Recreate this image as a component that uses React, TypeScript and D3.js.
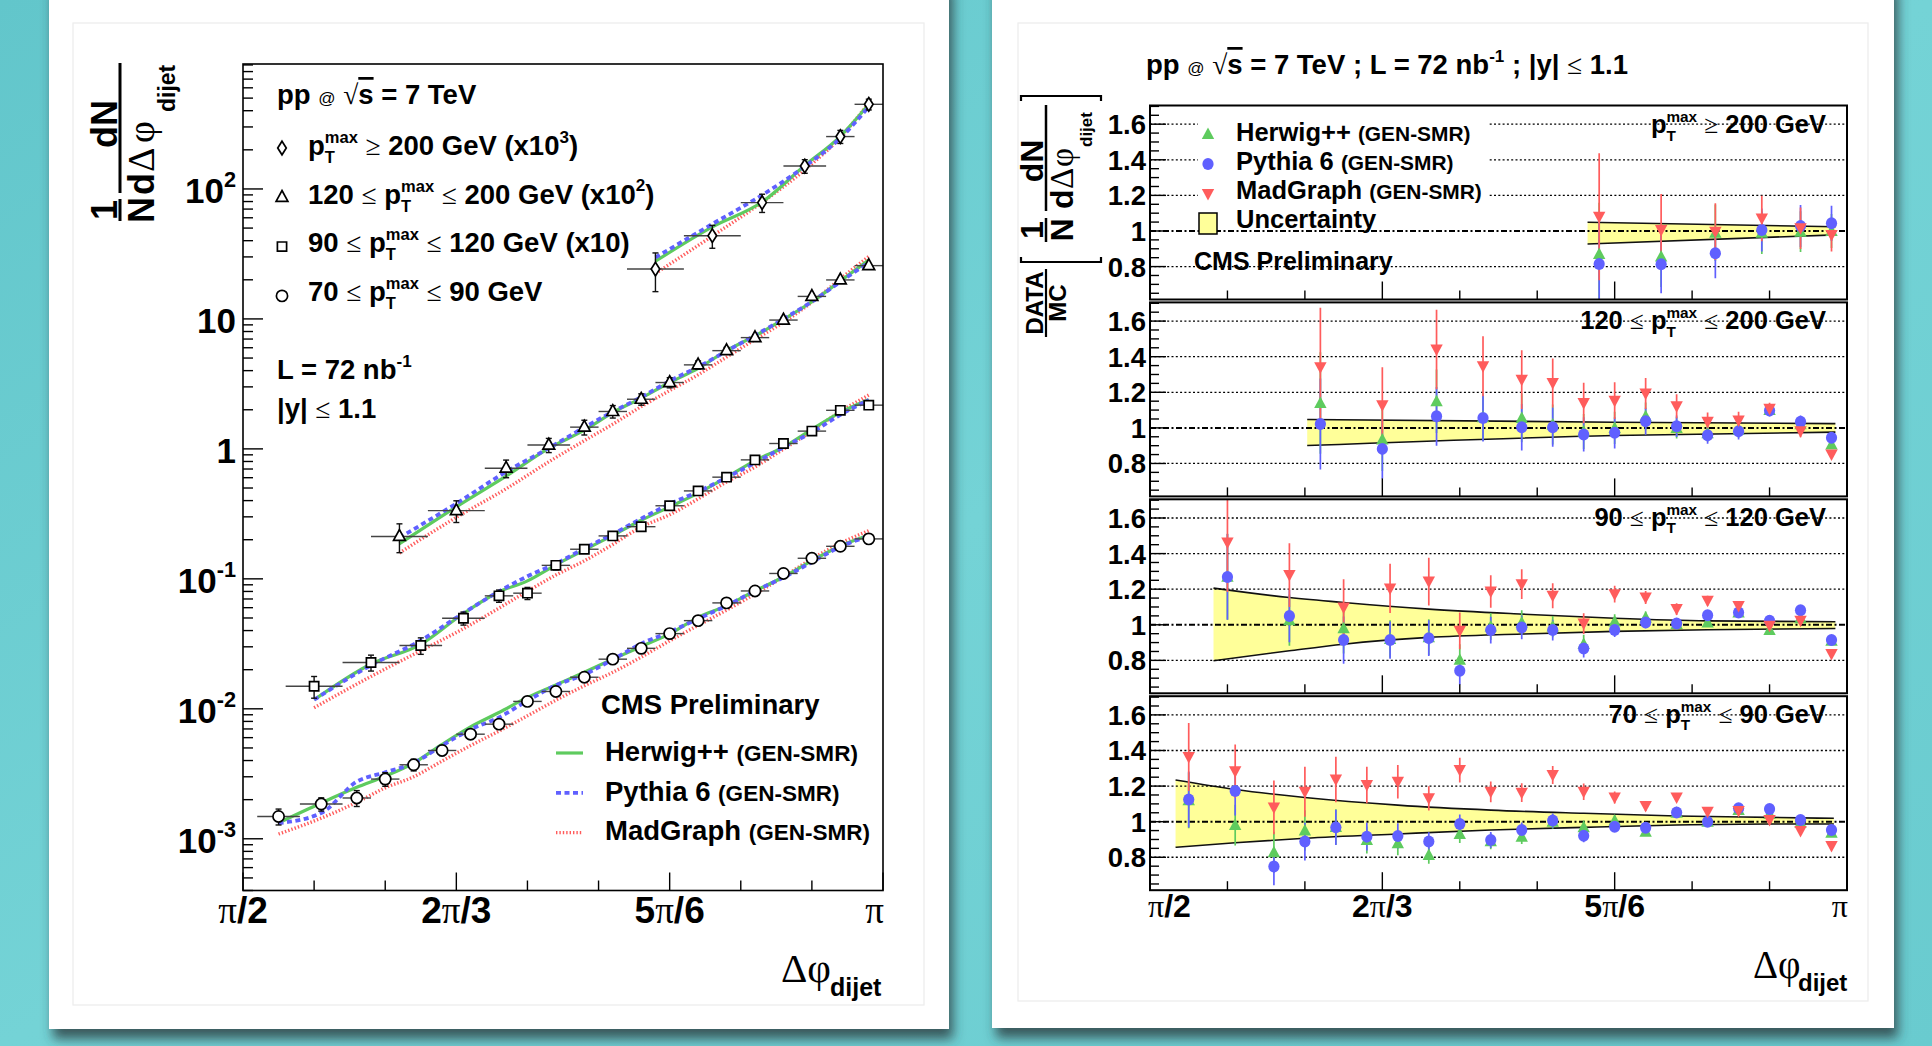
import React from 'react';
import * as d3 from 'd3';

// Δφ_dijet bin edges, in degrees (90 = π/2, 180 = π)
const edgesPt200 = [144, 152, 160, 166, 172, 176, 180];
const edgesPt120 = [108, 116, 124, 130, 136, 140, 144, 148, 152, 156, 160, 164, 168, 172, 176, 180];
const edgesPt90 = [96, 104, 112, 118, 124, 128, 132, 136, 140, 144, 148, 152, 156, 160, 164, 168, 172, 176, 180];
const edgesPt70 = [92, 98, 104, 108, 112, 116, 120, 124, 128, 132, 136, 140, 144, 148, 152, 156, 160, 164, 168, 172, 176, 180];

// measured 1/N dN/dΔφ (already multiplied by x10^3, x10^2, x10, x1)
const dataPt200 = [24.2, 43.7, 78.5, 150, 253, 448];
const dataPt120 = [0.212, 0.335, 0.71, 1.07, 1.47, 1.94, 2.41, 3.24, 4.43, 5.7, 7.18, 9.8, 14.9, 19.95, 25.7];
const dataPt90 = [0.0149, 0.0227, 0.0307, 0.0498, 0.074, 0.0776, 0.127, 0.169, 0.214, 0.252, 0.365, 0.475, 0.606, 0.823, 1.1, 1.37, 1.98, 2.17];
const dataPt70 = [0.001485, 0.00185, 0.00206, 0.00288, 0.00371, 0.00478, 0.00638, 0.00762, 0.0114, 0.0136, 0.0175, 0.0241, 0.0292, 0.0379, 0.0477, 0.0653, 0.0807, 0.11, 0.144, 0.178, 0.203];

// relative stat. uncertainty of the data
const relErr200 = [0.33, 0.2, 0.16, 0.12, 0.115, 0.095];
const relErr120 = [0.25, 0.19, 0.155, 0.125, 0.13, 0.11, 0.1, 0.09, 0.073, 0.06, 0.05, 0.047, 0.03, 0.035, 0.025];
const relErr90 = [0.19, 0.14, 0.145, 0.115, 0.108, 0.107, 0.077, 0.068, 0.06, 0.058, 0.04, 0.032, 0.03, 0.025, 0.02, 0.02, 0.02, 0.02];
const relErr70 = [0.14, 0.117, 0.14, 0.12, 0.103, 0.085, 0.077, 0.06, 0.054, 0.05, 0.045, 0.04, 0.04, 0.03, 0.025, 0.02, 0.02, 0.02, 0.02, 0.02, 0.02];

// DATA / MC ratios
const herwig200 = [0.871, 0.856, 0.99, 0.99, 0.996, 1.0];
const pythia200 = [0.815, 0.813, 0.875, 1.006, 1.028, 1.043];
const madgraph200 = [1.08, 1.006, 0.996, 1.07, 1.015, 0.978];

const herwig120 = [1.14, 0.935, 1.15, 1.06, 1.056, 1.019, 0.98, 1.0, 1.065, 1.0, 0.97, 0.99, 1.1, 1.02, 0.907];
const pythia120 = [1.022, 0.882, 1.065, 1.056, 1.004, 1.004, 0.963, 0.972, 1.037, 1.009, 0.959, 0.981, 1.097, 1.034, 0.944];
const madgraph120 = [1.34, 1.127, 1.44, 1.346, 1.271, 1.252, 1.14, 1.153, 1.193, 1.121, 1.034, 1.041, 1.108, 0.981, 0.85];

const herwig90 = [1.27, 1.026, 0.981, 0.92, 0.93, 0.804, 0.99, 1.013, 0.99, 0.892, 1.019, 1.041, 1.004, 1.013, 1.069, 0.97, 1.037, 0.91];
const pythia90 = [1.269, 1.049, 0.914, 0.914, 0.925, 0.742, 0.97, 0.985, 0.97, 0.867, 0.97, 1.013, 1.007, 1.054, 1.069, 1.022, 1.082, 0.914];
const madgraph90 = [1.462, 1.279, 1.097, 1.204, 1.243, 0.966, 1.187, 1.228, 1.163, 1.007, 1.172, 1.153, 1.088, 1.135, 1.105, 0.994, 1.022, 0.836];

const herwig70 = [1.12, 0.981, 0.828, 0.95, 0.97, 0.897, 0.879, 0.813, 0.931, 0.89, 0.916, 1.0, 0.968, 1.006, 0.944, 1.05, 1.0, 1.065, 1.043, 0.994, 0.938];
const pythia70 = [1.125, 1.172, 0.748, 0.888, 0.968, 0.916, 0.92, 0.888, 0.987, 0.897, 0.953, 1.006, 0.921, 0.972, 0.966, 1.052, 1.0, 1.075, 1.071, 1.009, 0.953];
const madgraph70 = [1.364, 1.284, 1.08, 1.168, 1.237, 1.206, 1.224, 1.131, 1.29, 1.168, 1.163, 1.262, 1.168, 1.136, 1.088, 1.136, 1.056, 1.06, 1.009, 0.948, 0.864];

// systematic uncertainty band (degrees, upper, lower)
const bandX200 = [146.5, 178.5];
const bandHi200 = [1.049, 1.024];
const bandLo200 = [0.927, 0.978];
const bandX120 = [110.3, 150, 178.5];
const bandHi120 = [1.047, 1.032, 1.024];
const bandLo120 = [0.901, 0.957, 0.976];
const bandX90 = [98.2, 108, 115, 126, 138, 150, 162, 178.5];
const bandHi90 = [1.206, 1.153, 1.125, 1.088, 1.06, 1.037, 1.022, 1.017];
const bandLo90 = [0.798, 0.854, 0.891, 0.929, 0.948, 0.963, 0.972, 0.979];
const bandX70 = [93.3, 101, 110, 122, 134, 146, 158, 170, 178.3];
const bandHi70 = [1.234, 1.181, 1.136, 1.093, 1.065, 1.047, 1.032, 1.024, 1.019];
const bandLo70 = [0.856, 0.882, 0.907, 0.931, 0.953, 0.968, 0.981, 0.987, 0.987];

// axis ticks and labels
const xMajorDeg = [90, 120, 150, 180];
const xMinorDeg = [100, 110, 130, 140, 160, 170];
const logLabelValues = [1e-3, 1e-2, 1e-1, 1, 10, 100];
const logLabelText = [['10', '-3'], ['10', '-2'], ['10', '-1'], ['1', ''], ['10', ''], ['10', '2']];
const ratioLabelValues = [0.8, 1, 1.2, 1.4, 1.6];
const ratioLabelText = ['0.8', '1', '1.2', '1.4', '1.6'];

const FONT = "'Liberation Sans', Arial, Helvetica, sans-serif";
const SERIF = "'Liberation Serif', 'DejaVu Serif', serif";
const W = 1932, H = 1046;

const MC = ['herwig', 'pythia', 'madgraph'];
const mcColor = { herwig: '#5ecb5e', pythia: '#6060ff', madgraph: '#ff5c5c' };

const ranges = [
  { edges: edgesPt200, data: dataPt200, err: relErr200, herwig: herwig200, pythia: pythia200, madgraph: madgraph200,
    bandX: bandX200, bandHi: bandHi200, bandLo: bandLo200, marker: 'diamond' },
  { edges: edgesPt120, data: dataPt120, err: relErr120, herwig: herwig120, pythia: pythia120, madgraph: madgraph120,
    bandX: bandX120, bandHi: bandHi120, bandLo: bandLo120, marker: 'up' },
  { edges: edgesPt90, data: dataPt90, err: relErr90, herwig: herwig90, pythia: pythia90, madgraph: madgraph90,
    bandX: bandX90, bandHi: bandHi90, bandLo: bandLo90, marker: 'square' },
  { edges: edgesPt70, data: dataPt70, err: relErr70, herwig: herwig70, pythia: pythia70, madgraph: madgraph70,
    bandX: bandX70, bandHi: bandHi70, bandLo: bandLo70, marker: 'circle' },
];

const centers = (e: number[]) => e.slice(0, -1).map((lo, i) => (lo + e[i + 1]) / 2);

// left plot geometry
const L = { left: 243, right: 883, top: 64, bottom: 890.5 };
const xL = d3.scaleLinear().domain([90, 180]).range([L.left, L.right]);
const yL = d3.scaleLog().domain([4e-4, 915]).range([L.bottom, L.top]);

// ratio panels geometry
const R = { left: 1150, right: 1847, top0: 105.5, step: 196.9, h: 194 };
const xR = d3.scaleLinear().domain([90, 180]).range([R.left, R.right]);
const yR = (i: number) => d3.scaleLinear().domain([0.615, 1.705]).range([R.top0 + i * R.step + R.h, R.top0 + i * R.step]);

// rich text: [text, kind]
function Rich({ x, y, fs, parts, anchor = 'start', small = 0.8 }: any) {
  const out: any[] = [];
  let pdx = 0, pdy = 0;
  const push = (t: string, props: any, key: string) => {
    out.push(<tspan key={key} dx={pdx || undefined} dy={pdy || undefined} {...props}>{t}</tspan>);
    pdx = 0; pdy = 0;
  };
  parts.forEach(([t, k]: any, i: number) => {
    if (k === 'sup') {
      pdy -= 0.45 * fs; push(t, { fontSize: 0.62 * fs }, i + 's'); pdy += 0.45 * fs;
    } else if (k === 'sym') {
      push(t, { fontFamily: SERIF, fontWeight: 400 }, i + 'y');
    } else if (k === 'small') {
      push(t, { fontSize: small * fs }, i + 'm');
    } else if (k === 'at') {
      push(t, { fontSize: 0.62 * fs, fontWeight: 400 }, i + 'a');
    } else if (k === 'over') {
      push(t, { style: { textDecoration: 'overline' } }, i + 'o');
    } else if (k === 'ptmax') {
      const s = 0.6 * fs;
      push('p', {}, i + 'p');
      pdy -= 0.42 * fs; push('max', { fontSize: s }, i + 'x');
      pdx -= 2.001 * s; pdy += 0.72 * fs; push('T', { fontSize: s }, i + 't');
      pdx += (2.001 - 0.611) * s; pdy -= 0.3 * fs;
    } else {
      push(t, {}, i + 'n');
    }
  });
  return <text x={x} y={y} fontSize={fs} textAnchor={anchor} style={{ whiteSpace: 'pre' }}>{out}</text>;
}

const markerPath: any = {
  square: 'M-4.6,-4.6H4.6V4.6H-4.6Z',
  up: 'M0,-6.8L5.9,4L-5.9,4Z',
  diamond: 'M0,-6.8L4.3,0L0,6.8L-4.3,0Z',
  rup: 'M0,-6.5L6.2,5L-6.2,5Z',
  rdown: 'M0,6.5L6.2,-5L-6.2,-5Z',
};

function OpenMarker({ type, x, y }: any) {
  if (type === 'circle') return <circle cx={x} cy={y} r={5.6} fill="#fff" stroke="#000" strokeWidth={1.7} />;
  return <path d={markerPath[type]} transform={`translate(${x},${y})`} fill="#fff" stroke="#000" strokeWidth={1.7} />;
}

function McMarker({ mc, x, y }: any) {
  if (mc === 'pythia') return <ellipse cx={x} cy={y} rx={5.6} ry={6} fill={mcColor.pythia} />;
  return <path d={markerPath[mc === 'herwig' ? 'rup' : 'rdown']} transform={`translate(${x},${y})`} fill={(mcColor as any)[mc]} />;
}

const mcLineStyle: any = {
  herwig: { stroke: mcColor.herwig, strokeWidth: 3.2 },
  pythia: { stroke: mcColor.pythia, strokeWidth: 3.8, strokeDasharray: '5 3.5' },
  madgraph: { stroke: mcColor.madgraph, strokeWidth: 3.4, strokeDasharray: '1.4 2' },
};

const mcNames: any = { herwig: 'Herwig++ ', pythia: 'Pythia 6 ', madgraph: 'MadGraph ' };

const ptLabel = [
  [['', 'ptmax'], [' '], ['≥', 'sym'], [' 200 GeV']],
  [['120 '], ['≤', 'sym'], [' '], ['', 'ptmax'], [' '], ['≤', 'sym'], [' 200 GeV']],
  [['90 '], ['≤', 'sym'], [' '], ['', 'ptmax'], [' '], ['≤', 'sym'], [' 120 GeV']],
  [['70 '], ['≤', 'sym'], [' '], ['', 'ptmax'], [' '], ['≤', 'sym'], [' 90 GeV']],
];
const ptScale = [[[' (x10'], ['3', 'sup'], [')']], [[' (x10'], ['2', 'sup'], [')']], [[' (x10)']], []];

const xTickLabels = [
  [['π', 'sym'], ['/2']],
  [['2'], ['π', 'sym'], ['/3']],
  [['5'], ['π', 'sym'], ['/6']],
  [['π', 'sym']],
];

function LeftPanel() {
  const line = d3.line().curve(d3.curveMonotoneX);
  const logTicks: { v: number; major: boolean }[] = [];
  for (let k = -4; k <= 2; k++) for (let m = 1; m <= 9; m++) {
    const v = m * Math.pow(10, k);
    if (v >= 4e-4 && v <= 915) logTicks.push({ v, major: m === 1 });
  }
  return (
    <g>
      {/* MC curves */}
      {ranges.map((r, ri) => {
        const cs = centers(r.edges);
        return ['madgraph', 'herwig', 'pythia'].map(mc => (
          <path key={ri + mc} fill="none" {...mcLineStyle[mc]}
            d={line(cs.map((c, i) => [xL(c), yL(r.data[i] / (r as any)[mc][i])]) as any) as string} />
        ));
      })}
      {/* data */}
      {ranges.map((r, ri) => {
        const cs = centers(r.edges);
        return cs.map((c, i) => {
          const v = r.data[i], e = r.err[i];
          const px = xL(c), py = yL(v), y1 = yL(v * (1 + e)), y2 = yL(v * (1 - e));
          return (
            <g key={ri + '-' + i}>
              <line x1={xL(r.edges[i])} x2={xL(r.edges[i + 1])} y1={py} y2={py} stroke="#444" strokeWidth={1.4} />
              <line x1={px} x2={px} y1={y1} y2={y2} stroke="#111" strokeWidth={1.4} />
              <line x1={px - 3} x2={px + 3} y1={y1} y2={y1} stroke="#111" strokeWidth={1.4} />
              <line x1={px - 3} x2={px + 3} y1={y2} y2={y2} stroke="#111" strokeWidth={1.4} />
              <OpenMarker type={r.marker} x={px} y={py} />
            </g>
          );
        });
      })}
      {/* frame */}
      <rect x={L.left} y={L.top} width={L.right - L.left} height={L.bottom - L.top} fill="none" stroke="#000" strokeWidth={1.6} />
      {logTicks.map((t, i) => (
        <line key={'yt' + i} x1={L.left} x2={L.left + (t.major ? 20 : 10)} y1={yL(t.v)} y2={yL(t.v)} stroke="#000" strokeWidth={1.4} />
      ))}
      {xMajorDeg.concat(xMinorDeg).map((d, i) => (
        <line key={'xt' + i} x1={xL(d)} x2={xL(d)} y1={L.bottom} y2={L.bottom - (i < 4 ? 18 : 10)} stroke="#000" strokeWidth={1.4} />
      ))}
      {logLabelValues.map((v, i) => (
        <Rich key={'yl' + i} x={236} y={yL(v) + 14} fs={35} anchor="end"
          parts={logLabelText[i][1] ? [[logLabelText[i][0]], [logLabelText[i][1], 'sup']] : [[logLabelText[i][0]]]} />
      ))}
      {xMajorDeg.map((d, i) => (
        <Rich key={'xl' + i} x={xL(d) + (i === 3 ? 1 : 0)} y={923} fs={37} anchor={i === 3 ? 'end' : 'middle'} parts={xTickLabels[i]} />
      ))}
      {/* axis titles */}
      <text x={781} y={982} fontSize={41} fontFamily={SERIF} fontWeight={400}>Δφ</text>
      <text x={830} y={996} fontSize={25}>dijet</text>
      <g transform="translate(120,222) rotate(-90)">
        <text x={12} y={-3} fontSize={36} textAnchor="middle">1</text>
        <line x1={1} x2={23} y1={0} y2={0} stroke="#000" strokeWidth={3} />
        <text x={12} y={34} fontSize={36} textAnchor="middle">N</text>
        <line x1={29} x2={159} y1={0} y2={0} stroke="#000" strokeWidth={3} />
        <text x={98} y={-3} fontSize={36} textAnchor="middle">dN</text>
        <text x={27} y={34} fontSize={36}>d</text>
        <text x={50} y={34} fontSize={38} fontFamily={SERIF} fontWeight={400}>Δ</text>
        <text x={79} y={34} fontSize={38} fontFamily={SERIF} fontWeight={400}>φ</text>
        <text x={110} y={55} fontSize={23}>dijet</text>
      </g>
      {/* top-left legend */}
      <Rich x={277} y={104} fs={27.5} parts={[['pp '], ['@', 'at'], [' '], ['√', 'sym'], ['s', 'over'], [' = 7 TeV']]} />
      {ranges.map((r, i) => (
        <g key={'lg' + i}>
          <OpenMarker type={r.marker} x={282} y={148 + i * 49.3} />
          <Rich x={308} y={155 + i * 48.5} fs={27.5} parts={[...ptLabel[i], ...ptScale[i]]} />
        </g>
      ))}
      <Rich x={277} y={379} fs={27.5} parts={[['L = 72 nb'], ['-1', 'sup']]} />
      <Rich x={277} y={418} fs={27.5} parts={[['|y| '], ['≤', 'sym'], [' 1.1']]} />
      {/* bottom-right legend */}
      <text x={601} y={714} fontSize={27.5}>CMS Preliminary</text>
      {MC.map((mc, i) => (
        <g key={'ml' + i}>
          <line x1={556} x2={583} y1={753 + i * 39.8} y2={753 + i * 39.8} {...mcLineStyle[mc]} />
          <Rich x={605} y={761 + i * 39.5} fs={27.5} small={0.82} parts={[[mcNames[mc]], ['(GEN-SMR)', 'small']]} />
        </g>
      ))}
    </g>
  );
}

function RatioPanel({ idx }: any) {
  const r: any = ranges[idx];
  const y = yR(idx);
  const top = R.top0 + idx * R.step, bottom = top + R.h;
  const cs = centers(r.edges);
  const band = r.bandX.map((x: number, i: number) => ({ x, hi: r.bandHi[i], lo: r.bandLo[i] }));
  const area = d3.area<any>().x(d => xR(d.x)).y0(d => y(d.lo)).y1(d => y(d.hi)).curve(d3.curveMonotoneX);
  const edge = (k: string) => d3.line<any>().x(d => xR(d.x)).y(d => y(d[k])).curve(d3.curveMonotoneX)(band) as string;
  const yTicks = d3.range(13, 35).map(k => k * 0.05);
  return (
    <g>
      <defs>
        <clipPath id={'clip' + idx}><rect x={R.left} y={top} width={R.right - R.left} height={R.h} /></clipPath>
      </defs>
      <path d={area(band) as string} fill="#ffff99" />
      <path d={edge('hi')} fill="none" stroke="#111" strokeWidth={1.6} />
      <path d={edge('lo')} fill="none" stroke="#111" strokeWidth={1.6} />
      {[0.8, 1.2, 1.4, 1.6].map(v => (
        <line key={'g' + v} x1={R.left} x2={R.right} y1={y(v)} y2={y(v)} stroke="#000" strokeWidth={1.3} strokeDasharray="2 2.3" />
      ))}
      <line x1={R.left} x2={R.right} y1={y(1)} y2={y(1)} stroke="#000" strokeWidth={2} strokeDasharray="6 2.5 2 2.5" />
      {idx === 0 && <rect x={1198} y={112} width={290} height={106} fill="#fff" />}
      <g clipPath={`url(#clip${idx})`}>
        {MC.map(mc => cs.map((c: number, i: number) => {
          const v = r[mc][i], e = r.err[i];
          return <line key={mc + 'e' + i} x1={xR(c)} x2={xR(c)} y1={y(v * (1 + e))} y2={y(v * (1 - e))}
            stroke={(mcColor as any)[mc]} strokeWidth={1.7} />;
        }))}
        {MC.map(mc => cs.map((c: number, i: number) => (
          <McMarker key={mc + 'm' + i} mc={mc} x={xR(c)} y={y(r[mc][i])} />
        )))}
      </g>
      <rect x={R.left} y={top} width={R.right - R.left} height={R.h} fill="none" stroke="#000" strokeWidth={2} />
      {yTicks.map((v, i) => {
        const major = Math.abs(v * 5 - Math.round(v * 5)) < 1e-6;
        return <line key={'yt' + i} x1={R.left} x2={R.left + (major ? 16 : 9)} y1={y(v)} y2={y(v)} stroke="#000" strokeWidth={1.4} />;
      })}
      {xMajorDeg.concat(xMinorDeg).map((d, i) => (
        <line key={'xt' + i} x1={xR(d)} x2={xR(d)} y1={bottom} y2={bottom - (i < 4 ? 18 : 9)} stroke="#000" strokeWidth={1.4} />
      ))}
      {ratioLabelValues.map((v, i) => (
        <text key={'yl' + i} x={1146} y={y(v) + 10} fontSize={27.5} textAnchor="end">{ratioLabelText[i]}</text>
      ))}
      <Rich x={1826} y={133 + idx * R.step - (idx === 0 ? 0 : 1)} fs={25.5} anchor="end" parts={ptLabel[idx]} />
    </g>
  );
}

function RightPanel() {
  return (
    <g>
      <Rich x={1146} y={74} fs={27.5}
        parts={[['pp '], ['@', 'at'], [' '], ['√', 'sym'], ['s', 'over'], [' = 7 TeV ; L = 72 nb'], ['-1', 'sup'], [' ; |y| '], ['≤', 'sym'], [' 1.1']]} />
      {ranges.map((_, i) => <RatioPanel key={i} idx={i} />)}
      {/* legend */}
      {MC.map((mc, i) => (
        <g key={'rl' + mc}>
          <McMarker mc={mc} x={1208} y={134 + i * 30} />
          <Rich x={1236} y={141 + i * 29.2} fs={25.5} small={0.82} parts={[[mcNames[mc]], ['(GEN-SMR)', 'small']]} />
        </g>
      ))}
      <rect x={1199} y={213} width={18} height={21} fill="#ffff99" stroke="#000" strokeWidth={1.5} />
      <text x={1236} y={228} fontSize={25.5}>Uncertainty</text>
      <text x={1194} y={270} fontSize={25}>CMS Preliminary</text>
      {xMajorDeg.map((d, i) => (
        <Rich key={'xl' + i} x={i === 0 ? xR(d) - 2 : xR(d) + (i === 3 ? 1 : 0)} y={917} fs={32}
          anchor={i === 0 ? 'start' : i === 3 ? 'end' : 'middle'} parts={xTickLabels[i]} />
      ))}
      <text x={1753} y={978} fontSize={39} fontFamily={SERIF} fontWeight={400}>Δφ</text>
      <text x={1798} y={991} fontSize={24}>dijet</text>
      {/* y title */}
      <g transform="translate(1046,337) rotate(-90)">
        <text x={34} y={-3} fontSize={24} textAnchor="middle">DATA</text>
        <line x1={0} x2={68} y1={0} y2={0} stroke="#000" strokeWidth={2.2} />
        <text x={34} y={20} fontSize={24} textAnchor="middle">MC</text>
        <path d="M80,-25H75V55H80" fill="none" stroke="#000" strokeWidth={2.2} />
        <path d="M236,-25H241V55H236" fill="none" stroke="#000" strokeWidth={2.2} />
        <text x={107} y={-3} fontSize={32} textAnchor="middle">1</text>
        <line x1={95} x2={119} y1={0} y2={0} stroke="#000" strokeWidth={2.5} />
        <text x={107} y={27} fontSize={32} textAnchor="middle">N</text>
        <line x1={126} x2={232} y1={0} y2={0} stroke="#000" strokeWidth={2.5} />
        <text x={176} y={-3} fontSize={32} textAnchor="middle">dN</text>
        <text x={128} y={27} fontSize={32}>d</text>
        <text x={148} y={27} fontSize={33} fontFamily={SERIF} fontWeight={400}>Δ</text>
        <text x={170} y={27} fontSize={33} fontFamily={SERIF} fontWeight={400}>φ</text>
        <text x={190} y={46} fontSize={17}>dijet</text>
      </g>
    </g>
  );
}

export default function App() {
  React.useEffect(() => {
    document.body.style.margin = '0';
    document.body.style.overflow = 'hidden';
  }, []);
  return (
    <svg width={W} height={H} style={{ position: 'absolute', left: 0, top: 0, display: 'block' }}
      fontFamily={FONT} fontWeight="bold">
      <defs>
        <linearGradient id="bg" x1="0" x2="1" y1="0" y2="1">
          <stop offset="0" stopColor="#62c6cb" />
          <stop offset="0.5" stopColor="#74d3d6" />
          <stop offset="1" stopColor="#69cbcf" />
        </linearGradient>
        <filter id="shadow" x="-5%" y="-5%" width="112%" height="115%">
          <feDropShadow dx="4" dy="10" stdDeviation="6" floodColor="#2a3a3c" floodOpacity="0.8" />
        </filter>
      </defs>
      <rect width={W} height={H} fill="url(#bg)" />
      <rect x={49} y={-20} width={900} height={1049} fill="#fff" filter="url(#shadow)" />
      <rect x={992} y={-20} width={902} height={1048} fill="#fff" filter="url(#shadow)" />
      <rect x={73} y={23} width={851} height={982} fill="none" stroke="#ececec" strokeWidth={1.2} />
      <rect x={1018} y={23} width={850} height={978} fill="none" stroke="#ececec" strokeWidth={1.2} />
      <LeftPanel />
      <RightPanel />
    </svg>
  );
}
